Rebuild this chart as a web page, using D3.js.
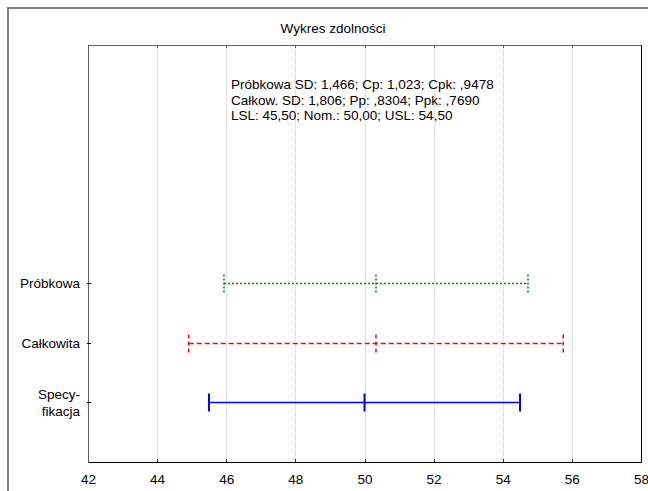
<!DOCTYPE html>
<html>
<head>
<meta charset="utf-8">
<script src="https://cdn.jsdelivr.net/npm/d3@7"></script>
<style>
  body { margin: 0; background: #fff; }
  svg { display: block; }
  text { font-family: "Liberation Sans", Arial, sans-serif; font-size: 13.5px; fill: #000; }
</style>
</head>
<body>
<div id="chart"></div>
<script>
var chart_width  = 648;
var chart_height = 491;

// rows, bottom to top
var categories = [['Specy-', 'fikacja'], ['Całkowita'], ['Próbkowa']];
var lows   = [45.5, 44.914, 45.934];
var mids   = [50.0, 50.332, 50.332];
var highs  = [54.5, 55.750, 54.730];
var colors = ['#0000ff', '#ff0000', '#008000'];
var dashes = [null, '5,3', '2,2'];

var x_ticks = [42, 44, 46, 48, 50, 52, 54, 56, 58];
var title = 'Wykres zdolności';
var info_lines = [
    'Próbkowa SD: 1,466; Cp: 1,023; Cpk: ,9478',
    'Całkow. SD: 1,806; Pp: ,8304; Ppk: ,7690',
    'LSL: 45,50; Nom.: 50,00; USL: 54,50'
];

var plot_left = 88, plot_right = 641, plot_top = 45, plot_bottom = 462;

var svg = d3.select('#chart')
            .append('svg')
            .attr('width', chart_width)
            .attr('height', chart_height);

// outer frame (left + top only visible)
svg.append('path')
    .attr('d', 'M8,' + chart_height + 'V8H' + chart_width)
    .attr('fill', 'none')
    .attr('stroke', '#808080')
    .attr('stroke-width', 2);

svg.append('text')
    .attr('x', 333)
    .attr('y', 33)
    .attr('text-anchor', 'middle')
    .text(title);

var x_scale = d3.scaleLinear()
                .domain([42, 58])
                .range([plot_left, plot_right]);

//rows sit at 1,2,3 on a 0..7 scale
var y_scale = d3.scaleLinear()
                .domain([0, 7])
                .range([plot_bottom, plot_top]);

//Grid lines
svg.selectAll('.grid')
    .data(x_ticks.slice(1, -1))
    .enter()
    .append('line')
    .attr('x1', (d) => Math.round(x_scale(d)) + 0.5)
    .attr('x2', (d) => Math.round(x_scale(d)) + 0.5)
    .attr('y1', plot_top)
    .attr('y2', plot_bottom)
    .attr('stroke', '#c8c8c8')
    .attr('stroke-dasharray', '1,1');

//Bottom axis
var x_axis = d3.axisBottom(x_scale)
                .tickValues(x_ticks)
                .tickSize(0)
                .tickPadding(12)
                .tickFormat(d3.format('d'));
var gx = svg.append('g')
    .attr('transform', 'translate(0,' + plot_bottom + ')')
    .call(x_axis);
gx.select('.domain').remove();
gx.selectAll('text').style('font-size', '13.5px').attr('font-family', null);

//Inner tick marks top and bottom
svg.selectAll('.ttick')
    .data(x_ticks)
    .enter()
    .append('line')
    .attr('x1', (d) => Math.round(x_scale(d)) + 0.5)
    .attr('x2', (d) => Math.round(x_scale(d)) + 0.5)
    .attr('y1', plot_top)
    .attr('y2', plot_top + 3)
    .attr('stroke', '#555');
svg.selectAll('.btick')
    .data(x_ticks)
    .enter()
    .append('line')
    .attr('x1', (d) => Math.round(x_scale(d)) + 0.5)
    .attr('x2', (d) => Math.round(x_scale(d)) + 0.5)
    .attr('y1', plot_bottom - 3)
    .attr('y2', plot_bottom)
    .attr('stroke', '#333');

//Plot border
svg.append('path')
    .attr('d', 'M' + (plot_left + 0.5) + ',' + (plot_bottom + 0.5) + 'V' + (plot_top + 0.5) + 'H' + (plot_right + 0.5))
    .attr('fill', 'none')
    .attr('stroke', '#606060');
svg.append('path')
    .attr('d', 'M' + (plot_left + 0.5) + ',' + (plot_bottom + 0.5) + 'H' + (plot_right + 0.5) + 'V' + (plot_top + 0.5))
    .attr('fill', 'none')
    .attr('stroke', '#000');

//Row labels and ticks
categories.forEach((lines, i) => {
    var cy = Math.round(y_scale(i + 1));
    svg.append('line')
        .attr('x1', plot_left - 1)
        .attr('x2', plot_left + 3)
        .attr('y1', cy + 0.5)
        .attr('y2', cy + 0.5)
        .attr('stroke', '#000');
    var t = svg.append('text')
        .attr('text-anchor', 'end')
        .attr('x', 80)
        .attr('y', cy + 5 - (lines.length - 1) * 8.5);
    lines.forEach((s, j) => {
        t.append('tspan')
            .attr('x', 80)
            .attr('dy', j === 0 ? 0 : 17)
            .text(s);
    });
});

//Intervals
lows.forEach((lo, i) => {
    var cy = Math.round(y_scale(i + 1)) + 0.5;
    svg.append('line')
        .attr('x1', x_scale(lo))
        .attr('x2', x_scale(highs[i]))
        .attr('y1', cy)
        .attr('y2', cy)
        .attr('stroke', colors[i])
        .attr('stroke-width', 1.5)
        .attr('stroke-dasharray', dashes[i]);
    [lo, mids[i], highs[i]].forEach((v) => {
        svg.append('line')
            .attr('x1', x_scale(v))
            .attr('x2', x_scale(v))
            .attr('y1', cy - 9)
            .attr('y2', cy + 9)
            .attr('stroke', colors[i])
            .attr('stroke-width', i === 0 ? 2 : 1.5)
            .attr('stroke-dasharray', i === 0 ? null : (i === 1 ? '4,3' : '2,2'));
    });
});

//Statistics text
svg.selectAll('.info')
    .data(info_lines)
    .enter()
    .append('text')
    .attr('x', 231)
    .attr('y', (d, i) => 89 + i * 15.5)
    .text((d) => d);
</script>
</body>
</html>
